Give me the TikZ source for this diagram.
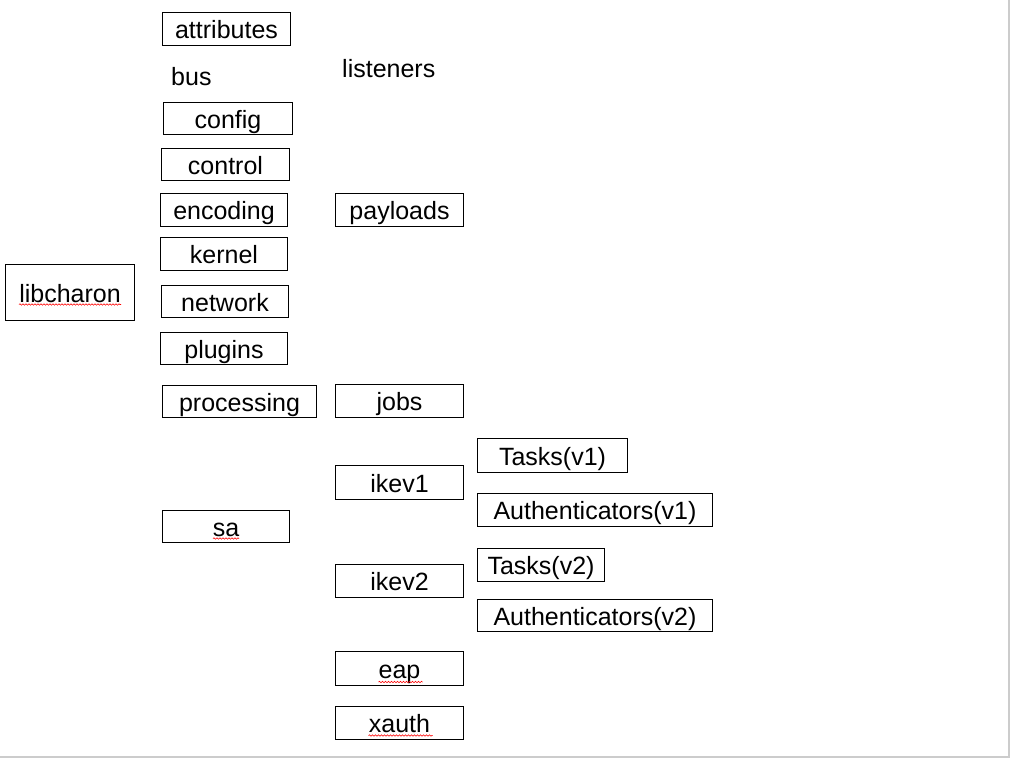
\documentclass[tikz,border=0pt]{standalone}
\usepackage{fontspec}
\setmainfont{Liberation Sans}
\usetikzlibrary{decorations.pathmorphing}

\tikzset{
	pkg/.style={draw, line width=1pt, anchor=north west, inner sep=0pt,
		minimum width=128pt, minimum height=33pt, text height=19pt, text depth=0pt},
	label/.style={anchor=base west, inner sep=0pt},
	squiggle/.style={draw=red, line width=0.6pt, decorate,
		decoration={snake, amplitude=0.7pt, segment length=3pt}}
}

\begin{document}
\begin{tikzpicture}[x=1pt, y=-1pt, font=\fontsize{25}{30}\selectfont]
	\useasboundingbox (0,0) rectangle (1011,758);
	% page edge
	\draw[black!20, line width=2pt] (1009,0) -- (1009,756.5) -- (0,756.5);

	\node[pkg, minimum width=129pt, minimum height=56pt] (libcharon) at (5,264) {libcharon};

	% first level
	\node[pkg] (attributes) at (162,12) {attributes};
	\node[label] (bus) at (171,85) {bus};
	\node[pkg, minimum width=129pt, minimum height=32pt] (config) at (163,102) {config};
	\node[pkg, minimum height=32pt] (control) at (161,148) {control};
	\node[pkg, minimum width=127pt] (encoding) at (160,193) {encoding};
	\node[pkg, minimum width=127pt] (kernel) at (160,237) {kernel};
	\node[pkg, minimum width=127pt, minimum height=32pt] (network) at (161,285) {network};
	\node[pkg, minimum width=127pt, minimum height=32pt] (plugins) at (160,332) {plugins};
	\node[pkg, minimum width=154pt, minimum height=32pt] (processing) at (162,385) {processing};
	\node[pkg, minimum width=127pt, minimum height=32pt] (sa) at (162,510) {sa};

	% second level
	\node[label] (listeners) at (342,77) {listeners};
	\node[pkg] (payloads) at (335,193) {payloads};
	\node[pkg] (jobs) at (335,384) {jobs};
	\node[pkg, minimum height=34pt] (ikev1) at (335,465) {ikev1};
	\node[pkg] (ikev2) at (335,564) {ikev2};
	\node[pkg, minimum height=34pt] (eap) at (335,651) {eap};
	\node[pkg] (xauth) at (335,706) {xauth};

	% third level
	\node[pkg, minimum width=150pt, minimum height=34pt] (tasksI) at (477,438) {Tasks(v1)};
	\node[pkg, minimum width=235pt] (authI) at (477,493) {Authenticators(v1)};
	\node[pkg, minimum width=127pt] (tasksII) at (477,548) {Tasks(v2)};
	\node[pkg, minimum width=235pt, minimum height=32pt] (authII) at (477,599) {Authenticators(v2)};

	% spell check marks
	\draw[squiggle] ([xshift=-51pt, yshift=-2.5pt]libcharon.base) -- ++(102,0);
	\draw[squiggle] ([xshift=-13pt, yshift=-2.5pt]sa.base) -- ++(26,0);
	\draw[squiggle] ([xshift=-21pt, yshift=-4pt]eap.base) -- ++(44,0);
	\draw[squiggle] ([xshift=-31pt, yshift=-3pt]xauth.base) -- ++(64,0);
\end{tikzpicture}
\end{document}
